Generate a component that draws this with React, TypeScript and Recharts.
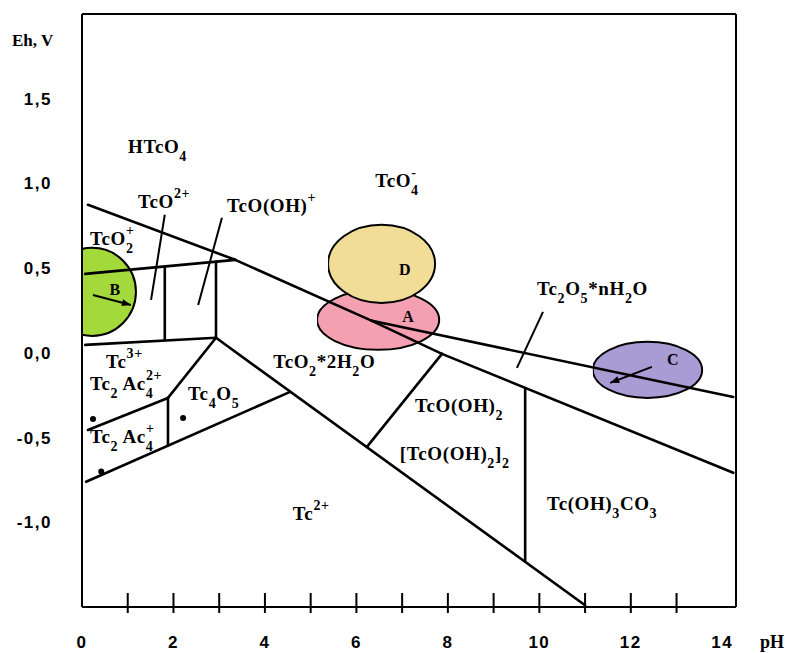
import React from 'react';
import {
  ComposedChart,
  XAxis,
  YAxis,
  ReferenceLine,
  ReferenceArea,
  ReferenceDot,
  Scatter,
} from 'recharts';

type Pt = [number, number];
type Part = string | { sub?: string; sup?: string };

// axes
const phDomain: Pt = [0, 14.3];
const ehDomain: Pt = [-1.5, 2];
const phTicks = [0, 1, 2, 3, 4, 5, 6, 7, 8, 9, 10, 11, 12, 13, 14];
const ehTicks = [-1, -0.5, 0, 0.5, 1, 1.5];

// stability field boundaries, vertices as [pH, Eh]
const boundaries: Pt[][] = [
  [[0.13, 0.874], [3.35, 0.549], [6.34, 0.189], [7.87, -0.006], [14.24, -0.708]],
  [[6.34, 0.189], [14.24, -0.26]],
  [[0.07, 0.466], [3.35, 0.549]],
  [[1.81, 0.51], [1.81, 0.077]],
  [[2.93, 0.538], [2.93, 0.089]],
  [[0.07, 0.047], [2.93, 0.089]],
  [[2.93, 0.089], [1.88, -0.266]],
  [[2.93, 0.089], [11.0, -1.49]],
  [[0.13, -0.455], [1.88, -0.266]],
  [[1.88, -0.266], [1.88, -0.548]],
  [[0.09, -0.761], [4.55, -0.23]],
  [[7.87, -0.006], [6.23, -0.555]],
  [[9.69, -0.207], [9.69, -1.232]],
];

// label leader lines
const pointers: Pt[][] = [
  [[1.81, 0.815], [1.51, 0.313]],
  [[3.06, 0.797], [2.54, 0.283]],
  [[10.08, 0.242], [9.51, -0.089]],
];

// arrows inside zones B and C
const arrows: Pt[][] = [
  [[0.24, 0.342], [1.07, 0.283]],
  [[12.46, -0.083], [11.55, -0.177]],
];

// sampled zones (ellipses given by their pH / Eh extent)
const zoneNames = ['B', 'A', 'D', 'C'];
const zonePh: Pt[] = [[-0.74, 1.18], [5.14, 7.81], [5.38, 7.72], [11.17, 13.56]];
const zoneEh: Pt[] = [[0.1, 0.62], [0.018, 0.372], [0.295, 0.756], [-0.266, 0.065]];
const zoneLetterAt: Pt[] = [[0.72, 0.372], [7.13, 0.212], [7.06, 0.49], [12.92, -0.041]];
const zoneColors = ['#a3d93a', '#f5a0b0', '#f2dd97', '#a99bd4'];

// species labels, anchored at left baseline [pH, Eh]
const speciesAt: Pt[] = [
  [1.006, 1.18],
  [1.225, 0.856],
  [3.17, 0.832],
  [0.175, 0.638],
  [6.41, 0.98],
  [9.95, 0.342],
  [0.525, -0.089],
  [0.175, -0.218],
  [0.175, -0.531],
  [2.32, -0.277],
  [4.18, -0.089],
  [7.28, -0.348],
  [6.95, -0.632],
  [10.17, -0.927],
  [4.61, -0.986],
];
const speciesParts: Part[][] = [
  ['HTcO', { sub: '4' }],
  ['TcO', { sup: '2+' }],
  ['TcO(OH)', { sup: '+' }],
  ['TcO', { sub: '2', sup: '+' }],
  ['TcO', { sub: '4', sup: '-' }],
  ['Tc', { sub: '2' }, 'O', { sub: '5' }, '*nH', { sub: '2' }, 'O'],
  ['Tc', { sup: '3+' }],
  ['Tc', { sub: '2' }, ' Ac', { sub: '4', sup: '2+' }],
  ['Tc', { sub: '2' }, ' Ac', { sub: '4', sup: '+' }],
  ['Tc', { sub: '4' }, 'O', { sub: '5' }],
  ['TcO', { sub: '2' }, '*2H', { sub: '2' }, 'O'],
  ['TcO(OH)', { sub: '2' }],
  ['[TcO(OH)', { sub: '2' }, ']', { sub: '2' }],
  ['Tc(OH)', { sub: '3' }, 'CO', { sub: '3' }],
  ['Tc', { sup: '2+' }],
];

// marked points
const marks = [
  { ph: 0.24, eh: -0.39 },
  { ph: 2.21, eh: -0.384 },
  { ph: 0.42, eh: -0.7 },
];

const SERIF = '"Liberation Serif", "Times New Roman", serif';
const SANS = '"Liberation Sans", Arial, sans-serif';

function Formula({ x, y, parts }: { x: number; y: number; parts: Part[] }) {
  const spans: React.ReactNode[] = [];
  let shift = 0;
  parts.forEach((p, i) => {
    if (typeof p === 'string') {
      spans.push(<tspan key={i} dy={-shift} fontSize={19}>{p}</tspan>);
      shift = 0;
    } else if (p.sub && p.sup) {
      spans.push(<tspan key={i + 'b'} dy={8 - shift} fontSize={14}>{p.sub}</tspan>);
      spans.push(
        <tspan key={i + 'p'} dx={-7.5 * p.sub.length} dy={-18} fontSize={14}>{p.sup}</tspan>
      );
      shift = -10;
    } else if (p.sub) {
      spans.push(<tspan key={i} dy={8 - shift} fontSize={14}>{p.sub}</tspan>);
      shift = 8;
    } else if (p.sup) {
      spans.push(<tspan key={i} dy={-10 - shift} fontSize={14}>{p.sup}</tspan>);
      shift = -10;
    }
  });
  return (
    <text x={x} y={y} fontFamily={SERIF} fontWeight="bold" letterSpacing={0.6} fill="#000">
      {spans}
    </text>
  );
}

function ArrowShape(p: any) {
  const { x1, y1, x2, y2 } = p;
  const a = Math.atan2(y2 - y1, x2 - x1);
  const L = 9;
  const W = 3.5;
  const bx = x2 - L * Math.cos(a);
  const by = y2 - L * Math.sin(a);
  const head = `${x2},${y2} ${bx - W * Math.sin(a)},${by + W * Math.cos(a)} ${bx + W * Math.sin(a)},${by - W * Math.cos(a)}`;
  return (
    <g>
      <line x1={x1} y1={y1} x2={x2} y2={y2} stroke="#000" strokeWidth={2} />
      <polygon points={head} fill="#000" />
    </g>
  );
}

// the area rect covers only the visible part of the zone; the ellipse is
// rebuilt from the full pH extent and clipped to that rect
const ellipseShape = (i: number) => (p: any) => {
  const [a, b] = zonePh[i];
  const lo = Math.max(a, phDomain[0]);
  const k = p.width / (b - lo);
  const cx = p.x + ((a + b) / 2 - lo) * k;
  const rx = ((b - a) / 2) * k;
  const id = `zone-clip-${i}`;
  return (
    <g>
      <defs>
        <clipPath id={id}>
          <rect x={p.x} y={p.y - 3} width={p.width + 3} height={p.height + 6} />
        </clipPath>
      </defs>
      <ellipse
        clipPath={`url(#${id})`}
        cx={cx}
        cy={p.y + p.height / 2}
        rx={rx}
        ry={p.height / 2}
        fill={zoneColors[i]}
        stroke="#000"
        strokeWidth={2}
      />
    </g>
  );
};

function PhTick(props: any) {
  const { x, y, payload } = props;
  const v = payload.value;
  return (
    <g>
      {v > 0 && v < 14 && <line x1={x} x2={x} y1={y - 14} y2={y + 6} stroke="#000" strokeWidth={2} />}
      {v % 2 === 0 && (
        <text
          x={x}
          y={y + 41}
          textAnchor="middle"
          fontFamily={SANS}
          fontWeight="bold"
          fontSize={17}
          letterSpacing={1.5}
          fill="#000"
        >
          {v}
        </text>
      )}
    </g>
  );
}

const segments = (lines: Pt[][]) =>
  lines.flatMap((pts) => pts.slice(1).map((pt, i) => [pts[i], pt] as [Pt, Pt]));

export default function App() {
  return (
    <div style={{ position: 'absolute', left: 0, top: 0, background: '#fff' }}>
      <ComposedChart width={787} height={653} margin={{ top: 14, right: 51, bottom: 0, left: 0 }}>
        <XAxis
          type="number"
          dataKey="ph"
          domain={phDomain}
          allowDataOverflow
          ticks={phTicks}
          interval={0}
          tickSize={0}
          tickMargin={0}
          tickLine={false}
          tick={<PhTick />}
          height={46}
          axisLine={{ stroke: '#000', strokeWidth: 2 }}
          label={{
            content: ({ viewBox }: any) => (
              <text x={viewBox.x + viewBox.width + 24} y={viewBox.y + 41} fontFamily={SERIF} fontWeight="bold" fontSize={18} fill="#000">
                pH
              </text>
            ),
          }}
        />
        <YAxis
          type="number"
          dataKey="eh"
          domain={ehDomain}
          allowDataOverflow
          ticks={ehTicks}
          interval={0}
          width={82}
          tickSize={0}
          tickMargin={30}
          tickLine={false}
          tickFormatter={(v: number) => v.toFixed(1).replace('.', ',')}
          tick={{ fill: '#000', fontSize: 17, fontFamily: SANS, fontWeight: 'bold', letterSpacing: 1.5 }}
          axisLine={{ stroke: '#000', strokeWidth: 2 }}
          label={{
            content: ({ viewBox }: any) => (
              <text x={12} y={viewBox.y + 32} fontFamily={SERIF} fontWeight="bold" fontSize={17} fill="#000">
                Eh, V
              </text>
            ),
          }}
        />

        {zoneNames.map((n, i) => (
          <ReferenceArea
            key={'z' + n}
            x1={Math.max(zonePh[i][0], phDomain[0])}
            x2={zonePh[i][1]}
            y1={zoneEh[i][0]}
            y2={zoneEh[i][1]}
            ifOverflow="visible"
            shape={ellipseShape(i)}
          />
        ))}

        <ReferenceLine y={ehDomain[1]} stroke="#000" strokeWidth={2} />
        <ReferenceLine x={phDomain[1]} stroke="#000" strokeWidth={2} />

        {segments(boundaries).map(([a, b], i) => (
          <ReferenceLine
            key={'b' + i}
            segment={[{ x: a[0], y: a[1] }, { x: b[0], y: b[1] }]}
            stroke="#000"
            strokeWidth={2.6}
            strokeLinecap="round"
            ifOverflow="visible"
          />
        ))}
        {pointers.map(([a, b], i) => (
          <ReferenceLine
            key={'p' + i}
            segment={[{ x: a[0], y: a[1] }, { x: b[0], y: b[1] }]}
            stroke="#000"
            strokeWidth={2}
            ifOverflow="visible"
          />
        ))}
        {arrows.map(([a, b], i) => (
          <ReferenceLine
            key={'a' + i}
            segment={[{ x: a[0], y: a[1] }, { x: b[0], y: b[1] }]}
            ifOverflow="visible"
            shape={ArrowShape}
          />
        ))}

        <Scatter
          data={marks}
          isAnimationActive={false}
          shape={(p: any) => <circle cx={p.cx} cy={p.cy} r={3} fill="#000" />}
        />

        {zoneNames.map((n, i) => (
          <ReferenceDot
            key={'l' + n}
            x={zoneLetterAt[i][0]}
            y={zoneLetterAt[i][1]}
            ifOverflow="visible"
            shape={(p: any) => (
              <text x={p.cx} y={p.cy} textAnchor="middle" dominantBaseline="central" fontFamily={SERIF} fontWeight="bold" fontSize={16} fill="#000">
                {n}
              </text>
            )}
          />
        ))}
        {speciesParts.map((parts, i) => (
          <ReferenceDot
            key={'s' + i}
            x={speciesAt[i][0]}
            y={speciesAt[i][1]}
            ifOverflow="visible"
            shape={(p: any) => <Formula x={p.cx} y={p.cy} parts={parts} />}
          />
        ))}
      </ComposedChart>
    </div>
  );
}
